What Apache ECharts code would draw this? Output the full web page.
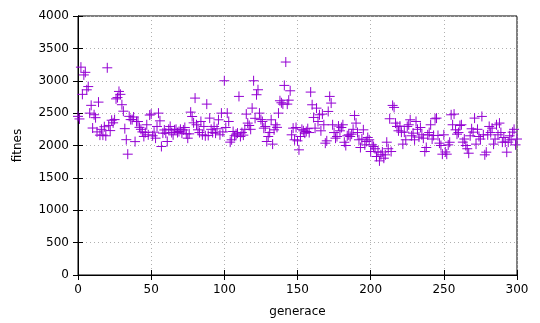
<!DOCTYPE html>
<html><head><meta charset="utf-8">
<script src="https://cdn.jsdelivr.net/npm/echarts@6/dist/echarts.min.js"></script>
<style>html,body{margin:0;padding:0;background:#fff}#c{width:540px;height:323px}</style>
</head><body><div id="c"></div>
<script>
const xTicks = [0, 50, 100, 150, 200, 250, 300];
const yTicks = [0, 500, 1000, 1500, 2000, 2500, 3000, 3500, 4000];
const xLabel = "generace";
const yLabel = "fitnes";
// fitness per generation 0..300
const fitnes = [
2450,2410,3210,2790,3090,3130,2860,2910,2500,2620,
2270,2475,2430,2210,2670,2160,2250,2160,2290,2150,
3200,2310,2230,2390,2350,2400,2720,2740,2835,2790,
2630,2530,2260,2090,1866,2450,2400,2400,2440,2060,
2370,2370,2280,2250,2210,2140,2200,2320,2165,2470,
2485,2150,2206,2113,2294,2500,2381,1985,2191,2240,
2191,2062,2250,2294,2200,2165,2242,2250,2200,2216,
2250,2191,2240,2278,2180,2113,2180,2515,2448,2350,
2732,2320,2242,2200,2371,2165,2294,2150,2639,2155,
2423,2250,2200,2294,2191,2258,2397,2165,2500,2210,
3000,2278,2500,2371,2052,2088,2216,2150,2175,2191,
2758,2139,2200,2160,2250,2485,2346,2309,2250,2577,
3000,2420,2784,2861,2500,2400,2371,2268,2294,2062,
2139,2200,2397,2021,2242,2320,2280,2500,2691,2660,
2639,2928,3289,2639,2700,2845,2165,2268,2088,2278,
2072,1933,2139,2250,2227,2191,2216,2260,2200,2825,
2629,2433,2268,2577,2371,2474,2227,2485,2320,2036,
2072,2526,2758,2655,2320,2200,2113,2139,2300,2227,
2278,2320,2050,2000,2150,2165,2139,2175,2250,2464,
2346,2200,2088,1969,2100,2242,2010,2062,2124,2088,
1907,2010,1985,1950,1830,1900,1763,1856,1900,1804,
1856,2051,1950,2413,1907,2619,2588,2346,2294,2227,
2300,2206,2021,2206,2088,2294,2320,2397,2150,2191,
2088,2371,2250,2130,2278,2165,2113,1907,1969,2165,
2200,2320,2100,2155,2413,2423,2155,2036,2000,1866,
2165,1900,1866,2010,2050,2474,2320,2485,2242,2175,
2200,2309,2320,2052,2100,2000,1950,1881,2150,2258,
2206,2423,2021,2250,2139,2100,2449,2165,1856,1897,
2165,2294,2200,2268,2021,2100,2320,2165,2346,2200,
2052,2124,2052,1897,2052,2150,2088,2206,2250,2010,
2100
];
const points = fitnes.map((v, i) => [i, v]);
const font = "DejaVu Sans";
const chart = echarts.init(document.getElementById('c'), null, {renderer: 'canvas'});
const gridLine = {show: true, lineStyle: {color: '#b0b0b0', type: [1, 3], width: 1}};
const plain = v => String(v);
chart.setOption({
  animation: false,
  grid: {left: 78, right: 23, top: 16, bottom: 47, show: true, borderColor: '#000', borderWidth: 1, backgroundColor: 'transparent'},
  xAxis: [{
    type: 'value', min: xTicks[0], max: xTicks[xTicks.length-1], interval: 50,
    name: xLabel, nameLocation: 'middle', nameGap: 31,
    nameTextStyle: {fontFamily: font, fontSize: 12, color: '#000'},
    axisLine: {show: true, lineStyle: {color: '#000', width: 1}},
    axisTick: {show: true, inside: true, length: 5, lineStyle: {color: '#000'}},
    axisLabel: {fontFamily: font, fontSize: 12, color: '#000', margin: 9, formatter: plain},
    splitLine: gridLine
  }, {
    type: 'value', position: 'top', min: 0, max: 300, interval: 50,
    axisLine: {show: true, lineStyle: {color: '#000'}},
    axisTick: {show: true, inside: true, length: 5, lineStyle: {color: '#000'}},
    axisLabel: {show: false}, splitLine: {show: false}
  }],
  yAxis: [{
    type: 'value', min: yTicks[0], max: yTicks[yTicks.length-1], interval: 500,
    name: yLabel, nameLocation: 'middle', nameGap: 54, nameRotate: 90,
    nameTextStyle: {fontFamily: font, fontSize: 12, color: '#000'},
    axisLine: {show: true, lineStyle: {color: '#000', width: 1}},
    axisTick: {show: true, inside: true, length: 5, lineStyle: {color: '#000'}},
    axisLabel: {fontFamily: font, fontSize: 12, color: '#000', margin: 9, formatter: plain},
    splitLine: gridLine
  }, {
    type: 'value', position: 'right', min: 0, max: 4000, interval: 500,
    axisLine: {show: true, lineStyle: {color: '#000'}},
    axisTick: {show: true, inside: true, length: 5, lineStyle: {color: '#000'}},
    axisLabel: {show: false}, splitLine: {show: false}
  }],
  series: [{
    type: 'scatter',
    data: points,
    symbol: 'path://M5,0 L5,10 M0,5 L10,5',
    symbolSize: 10,
    itemStyle: {color: 'rgba(0,0,0,0)', borderColor: '#9400d3', borderWidth: 1, opacity: 1},
    emphasis: {disabled: true}
  }]
});
</script></body></html>
